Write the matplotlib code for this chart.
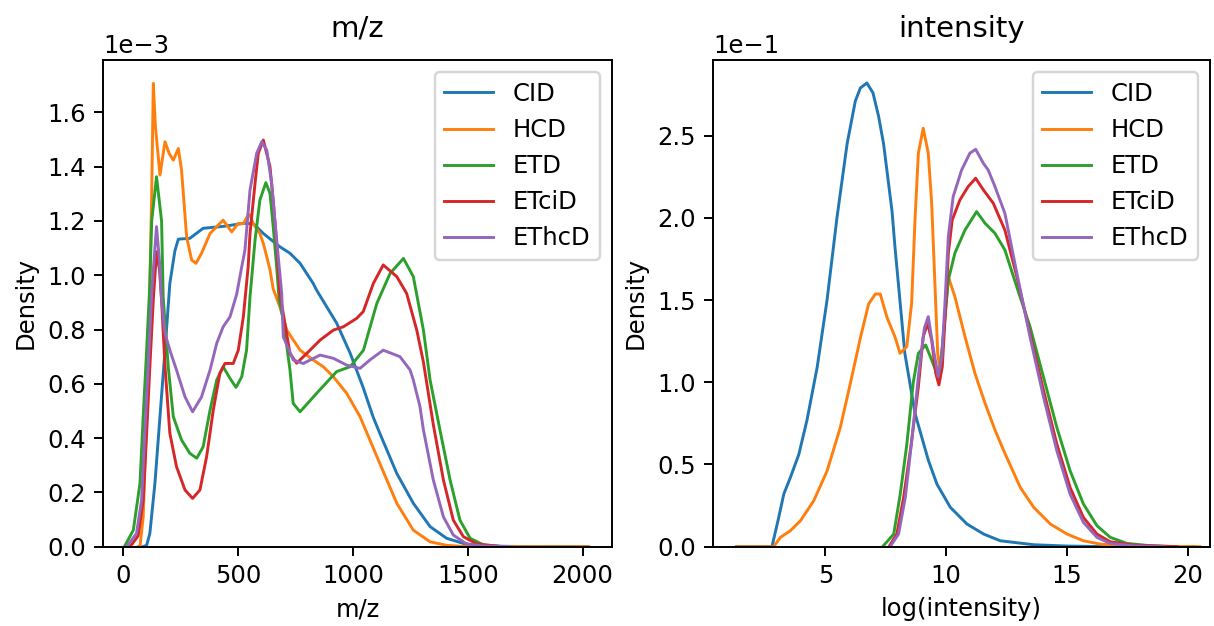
import matplotlib
matplotlib.use('Agg')
import matplotlib.pyplot as plt
import numpy as np

labels = ['CID', 'HCD', 'ETD', 'ETciD', 'EThcD']
colors = ['#1f77b4', '#ff7f0e', '#2ca02c', '#d62728', '#9467bd']

# m/z density curves (values in units of 1e-3)
mz_cid_x = [85, 102, 116, 138, 160, 182, 203, 225, 240, 290, 348, 435, 523, 566, 610, 682, 726, 770,
            827, 842, 929, 988, 1044, 1088, 1117, 1191, 1263, 1336, 1408, 1481, 1553, 1700, 1900, 2025]
mz_cid_y = [0, 0.005, 0.049, 0.233, 0.479, 0.724, 0.97, 1.09, 1.133, 1.136, 1.173, 1.18, 1.191, 1.19,
            1.154, 1.105, 1.081, 1.044, 0.97, 0.945, 0.824, 0.713, 0.588, 0.478, 0.418, 0.27, 0.16,
            0.074, 0.031, 0.012, 0.003, 0.001, 0, 0]

mz_hcd_x = [65, 73, 87, 102, 113, 124, 131, 140, 160, 182, 200, 218, 240, 254, 276, 298, 317, 341, 378,
            435, 472, 501, 523, 544, 552, 566, 595, 610, 625, 639, 653, 682, 712, 770, 827, 871, 915,
            973, 1031, 1117, 1191, 1263, 1336, 1408, 1480, 1600, 1800, 2026]
mz_hcd_y = [0, 0, 0.11, 0.479, 0.847, 1.3, 1.707, 1.55, 1.369, 1.492, 1.449, 1.424, 1.467, 1.387, 1.142,
            1.056, 1.044, 1.081, 1.154, 1.203, 1.16, 1.191, 1.19, 1.222, 1.222, 1.19, 1.154, 1.117,
            1.068, 1.02, 0.95, 0.884, 0.798, 0.724, 0.688, 0.663, 0.626, 0.565, 0.479, 0.307, 0.16,
            0.061, 0.018, 0.005, 0.001, 0, 0, 0]

mz_etd_x = [5, 44, 73, 87, 102, 116, 124, 145, 167, 174, 196, 218, 254, 290, 320, 348, 378, 407, 435,
            465, 491, 516, 537, 552, 574, 595, 621, 639, 653, 668, 679, 697, 726, 740, 770, 842, 929,
            988, 1046, 1104, 1162, 1220, 1263, 1307, 1336, 1379, 1423, 1466, 1510, 1568, 1655]
mz_etd_y = [0, 0.061, 0.233, 0.479, 0.724, 0.97, 1.2, 1.363, 1.2, 0.92, 0.663, 0.479, 0.393, 0.344,
            0.326, 0.368, 0.503, 0.614, 0.663, 0.62, 0.587, 0.626, 0.724, 0.921, 1.13, 1.277, 1.341,
            1.302, 1.179, 1.031, 0.909, 0.835, 0.651, 0.528, 0.497, 0.565, 0.645, 0.663, 0.724, 0.896,
            1.007, 1.062, 0.995, 0.798, 0.614, 0.43, 0.246, 0.098, 0.031, 0.007, 0]

mz_etcid_x = [30, 65, 87, 102, 116, 131, 145, 158, 167, 182, 203, 232, 269, 302, 334, 363, 392, 421,
              443, 479, 501, 523, 544, 552, 574, 588, 610, 639, 653, 668, 682, 726, 755, 799, 857, 915,
              958, 1016, 1045, 1089, 1132, 1191, 1234, 1278, 1307, 1350, 1394, 1437, 1481, 1539, 1650]
mz_etcid_y = [0, 0.04, 0.172, 0.418, 0.663, 0.909, 1.087, 1.02, 0.909, 0.663, 0.418, 0.295, 0.209,
              0.178, 0.209, 0.331, 0.503, 0.639, 0.675, 0.675, 0.724, 0.847, 1.031, 1.154, 1.339,
              1.449, 1.498, 1.4, 1.277, 1.117, 0.933, 0.712, 0.676, 0.712, 0.761, 0.798, 0.81, 0.841,
              0.866, 0.97, 1.038, 0.995, 0.933, 0.798, 0.68, 0.45, 0.246, 0.098, 0.037, 0.01, 0]

mz_ethcd_x = [15, 58, 80, 94, 109, 125, 145, 158, 167, 182, 203, 232, 269, 302, 341, 378, 407, 435,
              465, 494, 516, 530, 552, 581, 603, 625, 646, 668, 690, 697, 740, 784, 857, 915, 973, 1031,
              1074, 1132, 1205, 1249, 1263, 1292, 1307, 1350, 1394, 1437, 1495, 1560, 1680]
mz_ethcd_y = [0, 0.049, 0.172, 0.418, 0.663, 0.95, 1.179, 1.05, 0.909, 0.786, 0.724, 0.651, 0.552,
              0.497, 0.552, 0.651, 0.749, 0.81, 0.847, 0.93, 1.031, 1.093, 1.314, 1.449, 1.492, 1.461,
              1.339, 1.13, 0.933, 0.773, 0.688, 0.675, 0.706, 0.694, 0.669, 0.657, 0.688, 0.724, 0.7,
              0.651, 0.614, 0.516, 0.43, 0.246, 0.11, 0.043, 0.01, 0.003, 0]

# log(intensity) density curves (values in units of 1e-1)
int_cid_x = [1.32, 2.79, 3.07, 3.28, 3.55, 3.90, 4.24, 4.66, 5.07, 5.48, 5.90, 6.24, 6.45, 6.72, 6.97,
             7.20, 7.41, 7.76, 7.88, 8.29, 8.71, 9.26, 9.62, 10.17, 10.86, 11.55, 12.24, 13.62, 15.0,
             16.4, 18.5, 20.3]
int_cid_y = [0, 0, 0.178, 0.32, 0.42, 0.56, 0.77, 1.09, 1.50, 2.0, 2.45, 2.71, 2.79, 2.82, 2.76, 2.62,
             2.45, 2.04, 1.825, 1.176, 0.811, 0.527, 0.38, 0.24, 0.138, 0.077, 0.036, 0.012, 0.004,
             0.001, 0, 0]

int_hcd_x = [1.32, 2.86, 3.14, 3.55, 3.97, 4.52, 5.07, 5.62, 6.03, 6.45, 6.79, 7.07, 7.27, 7.55, 7.88,
             8.09, 8.37, 8.57, 8.71, 8.85, 9.05, 9.26, 9.40, 9.54, 9.65, 9.74, 9.88, 10.09, 10.36, 10.78,
             11.19, 11.61, 12.02, 12.43, 13.07, 13.62, 14.31, 15.0, 15.68, 16.37, 17.75, 20.5]
int_hcd_y = [0, 0, 0.057, 0.097, 0.158, 0.28, 0.46, 0.726, 0.99, 1.27, 1.476, 1.537, 1.537, 1.395,
             1.277, 1.176, 1.217, 1.48, 1.987, 2.393, 2.545, 2.393, 2.089, 1.581, 1.176, 1.075, 1.277,
             1.642, 1.521, 1.277, 1.055, 0.872, 0.71, 0.568, 0.36, 0.24, 0.138, 0.077, 0.036, 0.016,
             0.004, 0]

int_etd_x = [7.37, 7.83, 8.10, 8.37, 8.64, 8.85, 9.15, 9.40, 9.61, 9.74, 9.88, 10.09, 10.36, 10.78,
             11.26, 11.61, 12.02, 12.43, 12.93, 13.48, 14.03, 14.58, 15.13, 15.68, 16.24, 16.79, 17.48,
             18.44, 19.54]
int_etd_y = [0, 0.077, 0.32, 0.62, 1.0, 1.176, 1.227, 1.136, 1.055, 1.055, 1.277, 1.622, 1.785, 1.926,
             2.038, 1.967, 1.906, 1.805, 1.577, 1.334, 1.03, 0.726, 0.462, 0.26, 0.128, 0.057, 0.02,
             0.006, 0]

int_etcid_x = [7.63, 7.96, 8.24, 8.55, 8.85, 9.05, 9.23, 9.40, 9.57, 9.70, 9.84, 9.95, 10.09, 10.25,
               10.57, 10.91, 11.22, 11.54, 11.95, 12.43, 12.93, 13.48, 14.03, 14.58, 15.13, 15.68,
               16.24, 16.79, 17.75, 19.1, 19.55]
int_etcid_y = [0, 0.077, 0.30, 0.62, 0.973, 1.277, 1.359, 1.257, 1.055, 0.984, 1.095, 1.379, 1.785,
               1.987, 2.109, 2.19, 2.241, 2.17, 2.089, 1.926, 1.64, 1.29, 0.95, 0.625, 0.36, 0.178,
               0.077, 0.03, 0.01, 0.002, 0]

int_ethcd_x = [7.68, 8.03, 8.31, 8.58, 8.86, 9.10, 9.26, 9.45, 9.67, 9.82, 9.95, 10.09, 10.29, 10.64,
               10.98, 11.22, 11.54, 11.74, 12.02, 12.43, 12.93, 13.48, 14.03, 14.58, 15.13, 15.68,
               16.24, 16.79, 17.75, 19.0]
int_ethcd_y = [0, 0.077, 0.30, 0.65, 1.05, 1.33, 1.399, 1.22, 1.034, 1.15, 1.48, 1.886, 2.129, 2.291,
               2.393, 2.417, 2.332, 2.291, 2.19, 2.028, 1.66, 1.27, 0.91, 0.584, 0.32, 0.148, 0.057,
               0.02, 0.005, 0]

mz_xticks = [0, 500, 1000, 1500, 2000]
int_xticks = [5, 10, 15, 20]

mz_curves = [(mz_cid_x, mz_cid_y), (mz_hcd_x, mz_hcd_y), (mz_etd_x, mz_etd_y),
             (mz_etcid_x, mz_etcid_y), (mz_ethcd_x, mz_ethcd_y)]
int_curves = [(int_cid_x, int_cid_y), (int_hcd_x, int_hcd_y), (int_etd_x, int_etd_y),
              (int_etcid_x, int_etcid_y), (int_ethcd_x, int_ethcd_y)]

DPI = 175
fig, (ax1, ax2) = plt.subplots(1, 2, figsize=(1214 / DPI, 626 / DPI), dpi=DPI)
# place axes to match reference
ax1.set_position([103 / 1214, 1 - 546.7 / 626, (612 - 103) / 1214, (546.7 - 60) / 626])
ax2.set_position([713 / 1214, 1 - 546.7 / 626, (1210 - 713) / 1214, (546.7 - 60) / 626])

for (x, y), lab, c in zip(mz_curves, labels, colors):
    ax1.plot(x, np.array(y) * 1e-3, color=c, lw=1.2, label=lab)
for (x, y), lab, c in zip(int_curves, labels, colors):
    ax2.plot(x, np.array(y) * 1e-1, color=c, lw=1.2, label=lab)

ax1.set_xlim(-88, 2128)
ax1.set_ylim(0, 1.793e-3)
ax1.set_xticks(mz_xticks)
ax1.set_yticks(np.arange(0, 1.7e-3, 0.2e-3))
ax1.set_xlabel('m/z')
ax1.set_ylabel('Density')
ax1.set_title('m/z', pad=9.5)
ax1.ticklabel_format(axis='y', style='sci', scilimits=(0, 0))
ax1.legend(loc='upper right')

ax2.set_xlim(0.35, 20.92)
ax2.set_ylim(0, 2.96e-1)
ax2.set_xticks(int_xticks)
ax2.set_yticks(np.arange(0, 0.26, 0.05))
ax2.set_xlabel('log(intensity)')
ax2.set_ylabel('Density')
ax2.set_title('intensity', pad=9.5)
ax2.ticklabel_format(axis='y', style='sci', scilimits=(0, 0))
ax2.legend(loc='upper right')

plt.savefig('out.png', dpi=DPI)
